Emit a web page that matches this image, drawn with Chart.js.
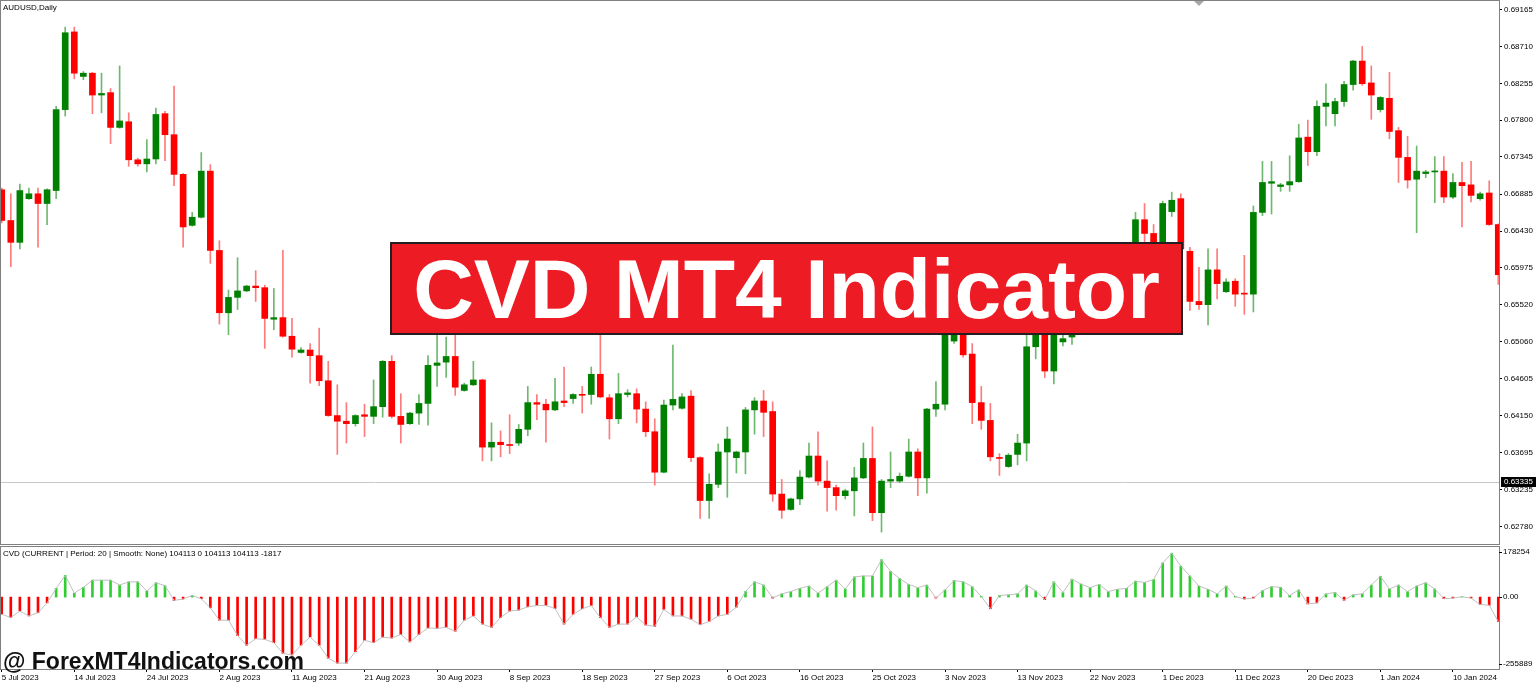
<!DOCTYPE html>
<html lang="en">
<head>
<meta charset="UTF-8">
<title>AUDUSD Daily - CVD MT4 Indicator</title>
<script src="https://cdn.jsdelivr.net/npm/chart.js"></script>
<style>
    html, body {
        margin: 0;
        padding: 0;
        background: #fff;
    }
    body {
        width: 1536px;
        height: 687px;
        position: relative;
        overflow: hidden;
        font-family: "Liberation Sans", Arial, sans-serif;
    }
    #main { position: absolute; left: 0; top: 0; }
    #cvd { position: absolute; left: 0; top: 545px; }
    .caption {
        position: absolute;
        left: 3px;
        font-size: 8px;
        color: #000;
        white-space: nowrap;
    }
    .banner {
        position: absolute;
        left: 390px;
        top: 242px;
        width: 789px;
        height: 89px;
        background: #ed1c24;
        border: 2px solid #231f20;
        color: #fff;
        font-weight: bold;
        font-size: 84px;
        line-height: 1;
        display: flex;
        align-items: center;
        justify-content: center;
        white-space: nowrap;
    }
    .watermark {
        position: absolute;
        left: 3px;
        top: 650px;
        font-size: 23px;
        line-height: 23px;
        font-weight: bold;
        color: #111;
        white-space: nowrap;
    }
</style>
</head>
<body>
    <canvas id="main" width="1536" height="545"></canvas>
    <canvas id="cvd" width="1536" height="142"></canvas>
    <div class="caption" style="top:3px">AUDUSD,Daily</div>
    <div class="caption" style="top:549px">CVD (CURRENT | Period: 20 | Smooth: None) 104113 0 104113 104113 -1817</div>
    <div class="banner">CVD MT4 Indicator</div>
    <div class="watermark">@ ForexMT4Indicators.com</div>

<script>
    // one label every 8 daily bars (broker shows Sunday bars)
    const dateLabels = ['5 Jul 2023', '14 Jul 2023', '24 Jul 2023', '2 Aug 2023', '11 Aug 2023',
        '21 Aug 2023', '30 Aug 2023', '8 Sep 2023', '18 Sep 2023', '27 Sep 2023', '6 Oct 2023',
        '16 Oct 2023', '25 Oct 2023', '3 Nov 2023', '13 Nov 2023', '22 Nov 2023', '1 Dec 2023',
        '11 Dec 2023', '20 Dec 2023', '1 Jan 2024', '10 Jan 2024'];

    const priceTicks = [0.69165, 0.68710, 0.68255, 0.67800, 0.67345, 0.66885, 0.66430, 0.65975,
        0.65520, 0.65060, 0.64605, 0.64150, 0.63695, 0.63235, 0.62780];
    const priceMin = 0.62563;
    const priceMax = 0.69272;
    const linePrice = 0.63335;

    const cvdTicks = [178254, 0, -255889];

    const opens = [
        0.6694, 0.6656, 0.6629, 0.6683, 0.6689, 0.6677, 0.6693, 0.6793, 0.6889, 0.6834,
        0.6838, 0.6811, 0.6814, 0.6771, 0.6778, 0.6731, 0.6726, 0.6732, 0.6788, 0.6762,
        0.6713, 0.6650, 0.6660, 0.6717, 0.6619, 0.6542, 0.6561, 0.6569, 0.6575, 0.6573,
        0.6534, 0.6536, 0.6513, 0.6493, 0.6496, 0.6489, 0.6458, 0.6415, 0.6408, 0.6405,
        0.6416, 0.6414, 0.6426, 0.6482, 0.6414, 0.6405, 0.6418, 0.6430, 0.6477, 0.6481,
        0.6488, 0.6446, 0.6453, 0.6459, 0.6376, 0.6382, 0.6379, 0.6381, 0.6398, 0.6431,
        0.6429, 0.6422, 0.6433, 0.6436, 0.6441, 0.6441, 0.6466, 0.6437, 0.6411, 0.6441,
        0.6442, 0.6423, 0.6395, 0.6345, 0.6428, 0.6424, 0.6439, 0.6363, 0.6310, 0.6330,
        0.6370, 0.6363, 0.6370, 0.6422, 0.6433, 0.6420, 0.6318, 0.6299, 0.6312, 0.6339,
        0.6365, 0.6334, 0.6326, 0.6316, 0.6322, 0.6338, 0.6362, 0.6295, 0.6334, 0.6334,
        0.6340, 0.6370, 0.6338, 0.6423, 0.6429, 0.6507, 0.6522, 0.6491, 0.6431, 0.6409,
        0.6363, 0.6352, 0.6367, 0.6381, 0.6500, 0.6520, 0.6470, 0.6506, 0.6512, 0.6540,
        0.6548, 0.6540, 0.6556, 0.6572, 0.6575, 0.6612, 0.6657, 0.6640, 0.6615, 0.6667,
        0.6683, 0.6618, 0.6556, 0.6552, 0.6595, 0.6568, 0.6581, 0.6566, 0.6565, 0.6666,
        0.6702, 0.6698, 0.6700, 0.6704, 0.6759, 0.6741, 0.6797, 0.6788, 0.6803, 0.6824,
        0.6853, 0.6826, 0.6793, 0.6807, 0.6767, 0.6734, 0.6707, 0.6714, 0.6716, 0.6717,
        0.6685, 0.6703, 0.6700, 0.6683, 0.6690, 0.6651
    ];
    const highs = [
        0.6696, 0.6689, 0.6701, 0.6696, 0.6696, 0.6695, 0.6797, 0.6895, 0.6895, 0.6840,
        0.6839, 0.6838, 0.6819, 0.6847, 0.6789, 0.6733, 0.6756, 0.6795, 0.6791, 0.6822,
        0.6714, 0.6666, 0.6740, 0.6725, 0.6631, 0.6570, 0.6610, 0.6576, 0.6594, 0.6576,
        0.6572, 0.6619, 0.6535, 0.6499, 0.6504, 0.6523, 0.6482, 0.6453, 0.6431, 0.6416,
        0.6429, 0.6459, 0.6483, 0.6489, 0.6442, 0.6419, 0.6441, 0.6489, 0.6520, 0.6512,
        0.6520, 0.6455, 0.6482, 0.6460, 0.6406, 0.6396, 0.6416, 0.6404, 0.6451, 0.6441,
        0.6435, 0.6461, 0.6475, 0.6442, 0.6451, 0.6475, 0.6525, 0.6441, 0.6467, 0.6447,
        0.6448, 0.6432, 0.6411, 0.6434, 0.6502, 0.6442, 0.6446, 0.6364, 0.6343, 0.6380,
        0.6401, 0.6371, 0.6425, 0.6437, 0.6446, 0.6432, 0.6336, 0.6313, 0.6347, 0.6381,
        0.6395, 0.6359, 0.6329, 0.6324, 0.6351, 0.6381, 0.6401, 0.6336, 0.6370, 0.6344,
        0.6386, 0.6374, 0.6424, 0.6457, 0.6525, 0.6524, 0.6530, 0.6504, 0.6451, 0.6430,
        0.6368, 0.6368, 0.6392, 0.6515, 0.6525, 0.6530, 0.6535, 0.6515, 0.6560, 0.6585,
        0.6560, 0.6568, 0.6580, 0.6578, 0.6620, 0.6666, 0.6677, 0.6651, 0.6680, 0.6691,
        0.6689, 0.6623, 0.6598, 0.6621, 0.6621, 0.6584, 0.6584, 0.6613, 0.6674, 0.6729,
        0.6729, 0.6702, 0.6736, 0.6775, 0.6780, 0.6804, 0.6825, 0.6807, 0.6828, 0.6854,
        0.6871, 0.6847, 0.6809, 0.6839, 0.6771, 0.6760, 0.6748, 0.6718, 0.6735, 0.6735,
        0.6714, 0.6728, 0.6729, 0.6691, 0.6705, 0.6652
    ];
    const lows = [
        0.6653, 0.6599, 0.6621, 0.6682, 0.6623, 0.6651, 0.6683, 0.6785, 0.6831, 0.6830,
        0.6788, 0.6789, 0.6751, 0.6770, 0.6723, 0.6723, 0.6716, 0.6726, 0.6730, 0.6699,
        0.6623, 0.6649, 0.6659, 0.6603, 0.6528, 0.6515, 0.6546, 0.6568, 0.6556, 0.6498,
        0.6521, 0.6512, 0.6487, 0.6492, 0.6455, 0.6452, 0.6414, 0.6367, 0.6381, 0.6402,
        0.6389, 0.6405, 0.6413, 0.6412, 0.6381, 0.6404, 0.6404, 0.6403, 0.6451, 0.6462,
        0.6440, 0.6445, 0.6452, 0.6359, 0.6359, 0.6364, 0.6368, 0.6378, 0.6390, 0.6410,
        0.6382, 0.6421, 0.6426, 0.6430, 0.6418, 0.6429, 0.6437, 0.6386, 0.6405, 0.6438,
        0.6406, 0.6389, 0.6329, 0.6344, 0.6422, 0.6423, 0.6358, 0.6288, 0.6288, 0.6326,
        0.6314, 0.6344, 0.6343, 0.6392, 0.6389, 0.6309, 0.6288, 0.6298, 0.6305, 0.6338,
        0.6329, 0.6297, 0.6298, 0.6312, 0.6291, 0.6337, 0.6285, 0.6271, 0.6326, 0.6332,
        0.6339, 0.6316, 0.6319, 0.6414, 0.6422, 0.6504, 0.6487, 0.6405, 0.6398, 0.6359,
        0.6341, 0.6351, 0.6354, 0.6359, 0.6485, 0.6462, 0.6454, 0.6501, 0.6503, 0.6532,
        0.6518, 0.6535, 0.6548, 0.6568, 0.6565, 0.6605, 0.6630, 0.6600, 0.6610, 0.6661,
        0.6615, 0.6545, 0.6546, 0.6527, 0.6559, 0.6567, 0.6550, 0.6540, 0.6543, 0.6662,
        0.6664, 0.6692, 0.6692, 0.6703, 0.6724, 0.6736, 0.6773, 0.6773, 0.6797, 0.6817,
        0.6823, 0.6781, 0.6790, 0.6757, 0.6703, 0.6696, 0.6641, 0.6709, 0.6678, 0.6678,
        0.6683, 0.6648, 0.6679, 0.6681, 0.6650, 0.6577
    ];
    const closes = [
        0.6656, 0.6629, 0.6693, 0.6689, 0.6677, 0.6694, 0.6793, 0.6888, 0.6838, 0.6838,
        0.6811, 0.6813, 0.6771, 0.6779, 0.6731, 0.6726, 0.6732, 0.6787, 0.6762, 0.6713,
        0.6648, 0.6660, 0.6717, 0.6619, 0.6542, 0.6561, 0.6569, 0.6575, 0.6573, 0.6535,
        0.6536, 0.6513, 0.6497, 0.6496, 0.6489, 0.6458, 0.6415, 0.6408, 0.6405, 0.6415,
        0.6414, 0.6426, 0.6482, 0.6414, 0.6404, 0.6418, 0.6430, 0.6477, 0.6480, 0.6488,
        0.6450, 0.6453, 0.6459, 0.6376, 0.6382, 0.6379, 0.6378, 0.6398, 0.6431, 0.6429,
        0.6422, 0.6432, 0.6431, 0.6441, 0.6440, 0.6466, 0.6438, 0.6411, 0.6442, 0.6443,
        0.6423, 0.6395, 0.6345, 0.6428, 0.6435, 0.6438, 0.6363, 0.6310, 0.6330, 0.6370,
        0.6386, 0.6370, 0.6422, 0.6433, 0.6419, 0.6318, 0.6298, 0.6312, 0.6339, 0.6365,
        0.6334, 0.6326, 0.6316, 0.6322, 0.6338, 0.6362, 0.6295, 0.6334, 0.6336, 0.6340,
        0.6370, 0.6338, 0.6423, 0.6429, 0.6516, 0.6520, 0.6490, 0.6431, 0.6409, 0.6364,
        0.6362, 0.6366, 0.6381, 0.6500, 0.6518, 0.6470, 0.6516, 0.6510, 0.6545, 0.6548,
        0.6540, 0.6556, 0.6572, 0.6575, 0.6612, 0.6657, 0.6640, 0.6615, 0.6677, 0.6681,
        0.6621, 0.6556, 0.6552, 0.6595, 0.6578, 0.6580, 0.6565, 0.6565, 0.6666, 0.6703,
        0.6704, 0.6700, 0.6704, 0.6758, 0.6741, 0.6797, 0.6801, 0.6803, 0.6824, 0.6853,
        0.6825, 0.6811, 0.6808, 0.6766, 0.6734, 0.6706, 0.6717, 0.6716, 0.6717, 0.6685,
        0.6703, 0.6699, 0.6687, 0.6689, 0.6651, 0.6589
    ];

    // CVD histogram / line values
    const cvdValues = [
        -61000, -72900, -49800, -67100, -55600, -20800, 31200, 77500, 13900, 34700,
        60200, 60200, 60200, 42800, 54400, 54400, 22000, 50900, 40500, -11600,
        -6900, 5800, -5800, -38200, -82200, -82200, -136600, -171300, -148100, -150500,
        -162000, -200200, -206000, -171300, -142400, -171300, -217600, -235000, -235000, -194400,
        -153900, -162000, -142400, -145800, -133100, -159700, -133100, -110000, -111100, -107600,
        -121500, -82200, -67100, -96100, -107600, -72900, -49800, -46300, -34700, -30100,
        -30100, -40500, -96100, -61300, -41700, -30100, -72900, -107600, -96100, -96100,
        -70600, -99500, -104200, -44000, -67100, -67100, -78700, -98400, -86800, -67100,
        -61300, -35900, 19700, 54400, 42800, -3500, 11600, 19700, 31200, 39400,
        13900, 37000, 60200, 28900, 71800, 75200, 75200, 133100, 91400, 66000,
        45100, 33600, 42800, -3500, 25500, 59000, 54400, 37000, 2300, -41700,
        5800, 8100, 11600, 42800, 22000, -9300, 54400, 16200, 63700, 46300,
        33600, 45100, 19700, 27800, 31200, 56700, 52100, 62500, 121500, 156200,
        110000, 75200, 39400, 27800, 11600, 39400, 2300, -6900, -3500, 23100,
        37000, 34700, 5800, 25500, -24300, -20800, 11600, 16200, -11600, 8100,
        11600, 42800, 74100, 28900, 42800, 19700, 39400, 50900, 28900, -5800,
        -3500, 1200, -3500, -26600, -28900, -86800
    ];

    const fontFamily = '"Liberation Sans", Arial, sans-serif';
    const axisWidth = 37;
    const xMin = -0.08;
    const xMax = 165.08;
    const isUp = closes.map((c, i) => c >= opens[i]);

    // gray frame round the plot area
    const framePlugin = {
        id: 'frame',
        afterDraw(chart) {
            const { ctx, chartArea: a } = chart;
            ctx.save();
            ctx.strokeStyle = '#808080';
            ctx.lineWidth = 1;
            ctx.strokeRect(a.left - 0.5, a.top - 0.5, a.right - a.left + 1, a.bottom - a.top + 1);
            ctx.restore();
        }
    };

    // horizontal price line and its black label on the axis
    const priceLinePlugin = {
        id: 'priceLine',
        beforeDatasetsDraw(chart) {
            const { ctx, chartArea: a, scales } = chart;
            const y = Math.round(scales.y.getPixelForValue(linePrice)) + 0.5;
            ctx.save();
            ctx.strokeStyle = '#c8c8c8';
            ctx.lineWidth = 1;
            ctx.beginPath();
            ctx.moveTo(a.left, y);
            ctx.lineTo(a.right, y);
            ctx.stroke();
            ctx.restore();
        },
        afterDraw(chart) {
            const { ctx, chartArea: a, scales } = chart;
            const y = Math.round(scales.y.getPixelForValue(linePrice));
            ctx.save();
            ctx.fillStyle = '#000';
            ctx.fillRect(a.right + 2, y - 5, axisWidth - 2, 10);
            ctx.fillStyle = '#fff';
            ctx.font = '8px ' + fontFamily;
            ctx.textBaseline = 'middle';
            ctx.fillText(linePrice.toFixed(5), a.right + 5, y);
            // chart shift marker
            ctx.fillStyle = '#a8a8a8';
            ctx.beginPath();
            ctx.moveTo(1194, 1);
            ctx.lineTo(1204, 1);
            ctx.lineTo(1199, 6);
            ctx.closePath();
            ctx.fill();
            ctx.restore();
        }
    };

    new Chart(document.getElementById('main'), {
        type: 'bar',
        data: {
            datasets: [
                {
                    label: 'body',
                    data: opens.map((o, i) => ({ x: i, y: [o, closes[i]] })),
                    backgroundColor: isUp.map(u => u ? '#008000' : '#ff0000'),
                    barThickness: 6,
                    minBarLength: 1,
                    grouped: false,
                    order: 0
                },
                {
                    label: 'wick',
                    data: highs.map((h, i) => ({ x: i, y: [lows[i], h] })),
                    backgroundColor: isUp.map(u => u ? '#6fb86f' : '#ff7a7a'),
                    barThickness: 1,
                    grouped: false,
                    order: 1
                }
            ]
        },
        options: {
            responsive: false,
            animation: false,
            devicePixelRatio: 1,
            layout: { padding: { left: 1, top: 1, bottom: 1, right: 0 } },
            plugins: { legend: { display: false }, tooltip: { enabled: false } },
            scales: {
                x: {
                    type: 'linear',
                    min: xMin,
                    max: xMax,
                    offset: false,
                    display: false
                },
                y: {
                    position: 'right',
                    min: priceMin,
                    max: priceMax,
                    beginAtZero: false,
                    afterFit: s => {
                        s.width = axisWidth;
                        s.paddingTop = 0;
                        s.paddingBottom = 0;
                    },
                    afterBuildTicks: s => { s.ticks = priceTicks.map(v => ({ value: v })); },
                    ticks: {
                        callback: v => v.toFixed(5),
                        font: { family: fontFamily, size: 8 },
                        color: '#000',
                        padding: 2,
                        autoSkip: false
                    },
                    grid: { drawOnChartArea: false, tickLength: 3, color: '#000' },
                    border: { display: false }
                }
            }
        },
        plugins: [framePlugin, priceLinePlugin]
    });

    // CVD axis labels sit inside the panel at top and bottom, like MT4
    const cvdAxisPlugin = {
        id: 'cvdAxis',
        afterDraw(chart) {
            const { ctx, chartArea: a, scales } = chart;
            ctx.save();
            ctx.font = '8px ' + fontFamily;
            ctx.fillStyle = '#000';
            ctx.strokeStyle = '#000';
            ctx.textBaseline = 'middle';
            cvdTicks.forEach(v => {
                let y = scales.y.getPixelForValue(v);
                y = Math.min(Math.max(y, a.top + 5), a.bottom - 5);
                ctx.beginPath();
                ctx.moveTo(a.right, Math.round(y) + 0.5);
                ctx.lineTo(a.right + 3, Math.round(y) + 0.5);
                ctx.stroke();
                ctx.fillText(v === 0 ? '0.00' : String(v), a.right + 4, y);
            });
            ctx.restore();
        }
    };

    new Chart(document.getElementById('cvd'), {
        type: 'bar',
        data: {
            datasets: [
                {
                    type: 'line',
                    label: 'CVD line',
                    data: cvdValues.map((v, i) => ({ x: i, y: v })),
                    borderColor: '#c0c0c0',
                    borderWidth: 1,
                    pointRadius: 0,
                    tension: 0,
                    order: 0
                },
                {
                    type: 'bar',
                    label: 'CVD',
                    data: cvdValues.map((v, i) => ({ x: i, y: v })),
                    backgroundColor: cvdValues.map(v => v >= 0 ? '#32cd32' : '#ff0000'),
                    barThickness: 2,
                    order: 1
                }
            ]
        },
        options: {
            responsive: false,
            animation: false,
            devicePixelRatio: 1,
            layout: { padding: { left: 1, top: 2, bottom: 0, right: 0 } },
            plugins: { legend: { display: false }, tooltip: { enabled: false } },
            scales: {
                x: {
                    type: 'linear',
                    min: xMin,
                    max: xMax,
                    offset: false,
                    afterFit: s => {
                        s.height = 18;
                        s.paddingLeft = 0;
                        s.paddingRight = 0;
                    },
                    afterBuildTicks: s => { s.ticks = dateLabels.map((_, k) => ({ value: k * 8 })); },
                    ticks: {
                        callback: (v, idx) => dateLabels[idx],
                        align: 'start',
                        maxRotation: 0,
                        autoSkip: false,
                        font: { family: fontFamily, size: 8 },
                        color: '#000',
                        padding: 1
                    },
                    grid: { drawOnChartArea: false, tickLength: 3, color: '#000', offset: false },
                    border: { display: false }
                },
                y: {
                    position: 'right',
                    min: cvdTicks[2],
                    max: cvdTicks[0],
                    beginAtZero: false,
                    afterFit: s => {
                        s.width = axisWidth;
                        s.paddingTop = 0;
                        s.paddingBottom = 0;
                    },
                    ticks: { display: false },
                    grid: { display: false },
                    border: { display: false }
                }
            }
        },
        plugins: [framePlugin, cvdAxisPlugin]
    });
</script>
</body>
</html>
